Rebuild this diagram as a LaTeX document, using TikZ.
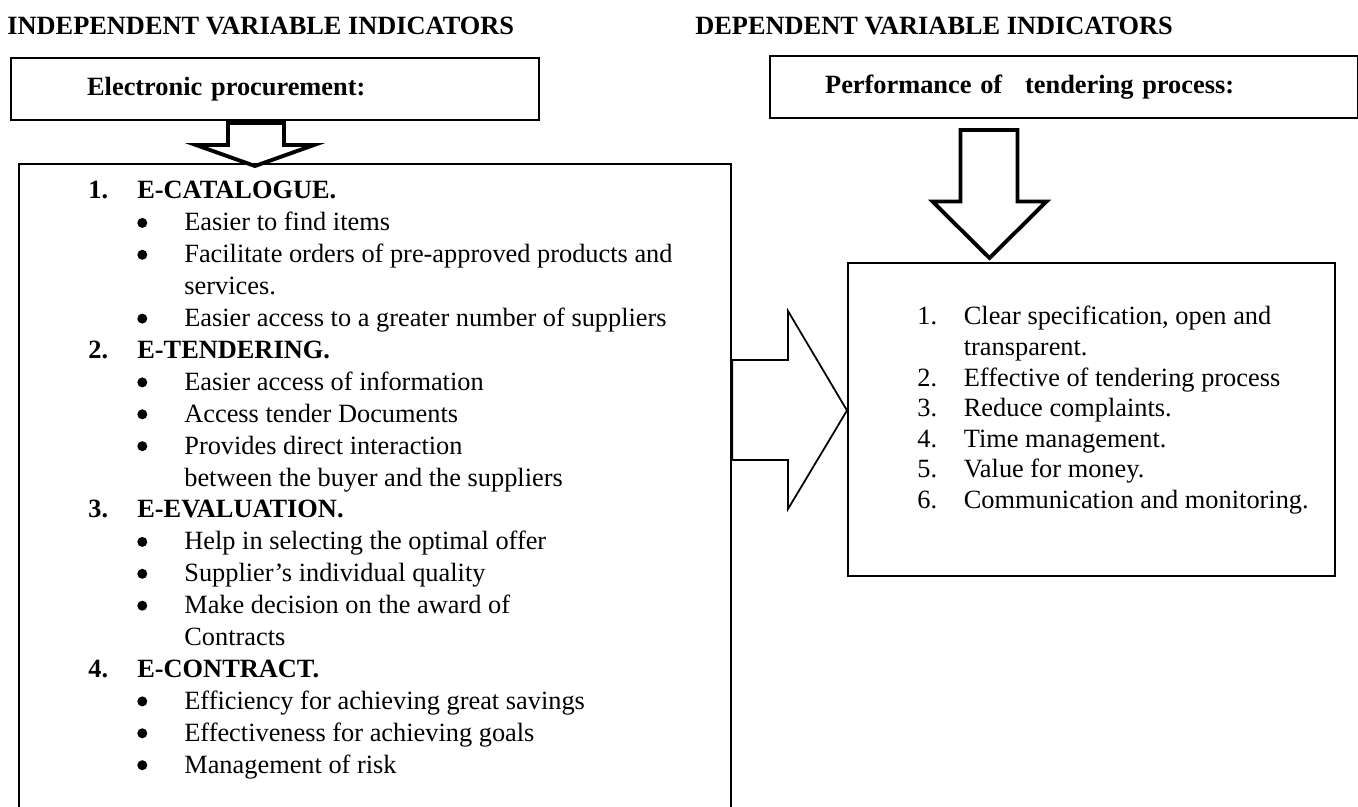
\documentclass[tikz,border=0pt]{standalone}
\usepackage{fontspec}
\setmainfont{Liberation Serif}
\usepackage{array}

% rows of the indicator lists (bullets are filled in by the picture)
\newcommand{\numhead}[2]{\textbf{#1} & \multicolumn{2}{@{}l@{}}{\textbf{#2}}}
\newcommand{\bul}[1]{ & & #1}
\newcommand{\cont}[1]{ & & #1}

\begin{document}
\fontsize{15pt}{18.15pt}\selectfont
\begin{tikzpicture}[box/.style={draw,line width=1.3pt,inner ysep=0pt,align=left},
                    fatarrow/.style={line width=2.2pt,line join=miter},
                    thinarrow/.style={line width=1pt,line join=miter}]
\useasboundingbox (0,0) rectangle (27.16,-16.14);

\node [anchor=base west,inner sep=0pt,font=\bfseries] (indhead) at (0.14,-0.7) {INDEPENDENT VARIABLE INDICATORS};
\node [anchor=base west,inner sep=0pt,font=\bfseries] (dephead) at (13.9,-0.7) {DEPENDENT VARIABLE INDICATORS};

\draw (0.2,-1.14)   node (elec) [box,anchor=north west,minimum height=1.24cm,inner xsep=1.52cm,text width=7.52cm,font=\bfseries] {Electronic procurement:};
\draw (15.38,-1.1)  node (perf) [box,anchor=north west,minimum height=1.24cm,inner xsep=1.1cm,text width=9.56cm,font=\bfseries] {Performance of\hspace{0.87em}tendering process:};
\draw (0.36,-3.26)  node (indep) [box,anchor=north west,minimum width=14.24cm,minimum height=13.4cm] {};
\draw (16.94,-5.24) node (result) [box,anchor=north west,minimum width=9.74cm,minimum height=6.26cm] {};

% block arrows
\draw[fatarrow] (4.56,-2.46) -- (4.56,-2.9) -- (3.92,-2.9) -- (5.1,-3.32) -- (6.28,-2.9) -- (5.68,-2.9) -- (5.68,-2.46) -- cycle;
\draw[fatarrow] (19.21,-2.6) -- (19.21,-4.03) -- (18.65,-4.03) -- (19.79,-5.16) -- (20.93,-4.03) -- (20.35,-4.03) -- (20.35,-2.6) -- cycle;
\draw[thinarrow] (indep.east |- 0,-7.2) -- (15.76,-7.2) -- (15.76,-6.22) -- (result.west |- 0,-8.21)
  -- (15.76,-10.18) -- (15.76,-9.2) -- (indep.east |- 0,-9.2) -- cycle;

\node [anchor=base west,inner sep=0pt] (indeplist) at ([shift={(1.4,-0.72)}]indep.north west) {%
\begin{tabular}[t]{@{}p{0.98cm}@{}p{0.94cm}@{}l@{}}
\numhead{1.}{E-CATALOGUE.}\\
\bul{Easier to find items}\\
\bul{Facilitate orders of pre-approved products and}\\
\cont{services.}\\
\bul{Easier access to a greater number of suppliers}\\
\numhead{2.}{E-TENDERING.}\\
\bul{Easier access of information}\\
\bul{Access tender Documents}\\
\bul{Provides direct interaction}\\
\cont{between the buyer and the suppliers}\\
\numhead{3.}{E-EVALUATION.}\\
\bul{Help in selecting the optimal offer}\\
\bul{Supplier's individual quality}\\
\bul{Make decision on the award of}\\
\cont{Contracts}\\
\numhead{4.}{E-CONTRACT.}\\
\bul{Efficiency for achieving great savings}\\
\bul{Effectiveness for achieving goals}\\
\bul{Management of risk}
\end{tabular}};

% bullets of the rows above
\foreach \i in {1,2,4,6,7,8,11,12,13,16,17,18}
  \fill ([shift={(1.086,{0.16-0.638*\i})}]indeplist.base west) circle (0.1);

\node [anchor=base west,inner sep=0pt,font=\fontsize{15pt}{17.36pt}\selectfont] (resultlist) at ([shift={(1.4,-1.26)}]result.north west) {%
\begin{tabular}[t]{@{}p{0.93cm}@{}l@{}}
1. & Clear specification, open and\\
   & transparent.\\
2. & Effective of tendering process\\
3. & Reduce complaints.\\
4. & Time management.\\
5. & Value for money.\\
6. & Communication and monitoring.
\end{tabular}};

\end{tikzpicture}
\end{document}
